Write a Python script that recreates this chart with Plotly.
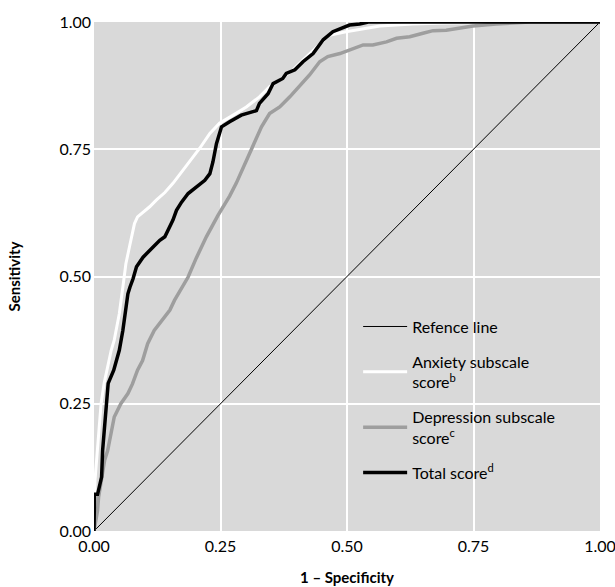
import plotly.graph_objects as go

# Reference line
ref_x = [0.0, 1.0]
ref_y = [0.0, 1.0]

# Anxiety subscale score (white)
anx_x = [0.0, 0.002, 0.006, 0.010, 0.014, 0.020, 0.028, 0.034, 0.040, 0.050, 0.057, 0.063,
         0.070, 0.080, 0.086, 0.097, 0.110, 0.123, 0.140, 0.156, 0.176, 0.192, 0.209, 0.229,
         0.248, 0.275, 0.301, 0.327, 0.347, 0.367, 0.393, 0.413, 0.435, 0.452, 0.465, 0.498,
         0.538, 0.565, 0.630, 0.696, 1.0]
anx_y = [0.0, 0.100, 0.150, 0.200, 0.250, 0.290, 0.330, 0.355, 0.375, 0.427, 0.479, 0.525,
         0.558, 0.604, 0.617, 0.626, 0.637, 0.650, 0.665, 0.683, 0.709, 0.729, 0.752, 0.781,
         0.801, 0.817, 0.833, 0.853, 0.873, 0.886, 0.906, 0.925, 0.945, 0.962, 0.974, 0.981,
         0.987, 0.992, 0.996, 0.998, 1.0]

# Depression subscale score (grey)
dep_x = [0.0, 0.003, 0.007, 0.009, 0.014, 0.021, 0.027, 0.034, 0.040, 0.053, 0.067, 0.076,
         0.086, 0.096, 0.106, 0.119, 0.139, 0.150, 0.159, 0.169, 0.186, 0.202, 0.222, 0.245,
         0.268, 0.281, 0.294, 0.314, 0.331, 0.347, 0.367, 0.387, 0.406, 0.426, 0.446, 0.462,
         0.486, 0.505, 0.532, 0.551, 0.578, 0.598, 0.624, 0.650, 0.670, 0.696, 0.729, 0.749,
         0.795, 0.861, 1.0]
dep_y = [0.0, 0.020, 0.040, 0.066, 0.093, 0.139, 0.158, 0.191, 0.224, 0.250, 0.270, 0.289,
         0.316, 0.335, 0.368, 0.394, 0.420, 0.434, 0.453, 0.470, 0.499, 0.536, 0.578, 0.620,
         0.658, 0.683, 0.712, 0.755, 0.794, 0.820, 0.833, 0.853, 0.873, 0.896, 0.922, 0.932,
         0.938, 0.945, 0.955, 0.955, 0.961, 0.968, 0.971, 0.978, 0.983, 0.984, 0.989, 0.992,
         0.996, 1.0, 1.0]

# Total score (black)
tot_x = [0.0, 0.001, 0.007, 0.012, 0.015, 0.017, 0.020, 0.024, 0.028, 0.039, 0.043, 0.050,
         0.057, 0.063, 0.067, 0.071, 0.077, 0.084, 0.097, 0.110, 0.130, 0.140, 0.150, 0.156,
         0.163, 0.173, 0.186, 0.202, 0.219, 0.229, 0.235, 0.242, 0.252, 0.268, 0.291, 0.321,
         0.327, 0.344, 0.354, 0.373, 0.380, 0.397, 0.413, 0.433, 0.453, 0.472, 0.486, 0.505,
         0.525, 0.542, 1.0]
tot_y = [0.0, 0.072, 0.072, 0.093, 0.106, 0.158, 0.191, 0.243, 0.290, 0.316, 0.329, 0.355,
         0.394, 0.440, 0.466, 0.479, 0.495, 0.519, 0.538, 0.551, 0.571, 0.578, 0.597, 0.611,
         0.630, 0.646, 0.663, 0.676, 0.689, 0.702, 0.725, 0.761, 0.794, 0.804, 0.817, 0.826,
         0.840, 0.859, 0.879, 0.889, 0.899, 0.906, 0.922, 0.938, 0.965, 0.981, 0.987, 0.994,
         0.996, 1.0, 1.0]

tick_vals = [0, 0.25, 0.5, 0.75, 1.0]
tick_text = ["0.00", "0.25", "0.50", "0.75", "1.00"]

FONT = "Lato, 'Open Sans', sans-serif"

fig = go.Figure()
fig.add_trace(go.Scatter(x=ref_x, y=ref_y, mode="lines", name="Refence line", legendgroup="g1",
                         line=dict(color="black", width=1)))
fig.add_trace(go.Scatter(x=anx_x, y=anx_y, mode="lines", name="Anxiety subscale<br>score<sup>b</sup>",
                         legendgroup="g2", line=dict(color="white", width=3)))
fig.add_trace(go.Scatter(x=dep_x, y=dep_y, mode="lines", name="Depression subscale<br>score<sup>c</sup>",
                         legendgroup="g3", line=dict(color="#9e9e9e", width=3.5)))
fig.add_trace(go.Scatter(x=tot_x, y=tot_y, mode="lines", name="Total score<sup>d</sup>",
                         legendgroup="g4", line=dict(color="black", width=3.5)))

fig.update_layout(
    width=615, height=587,
    margin=dict(l=94, r=15, t=22, b=56),
    paper_bgcolor="white",
    plot_bgcolor="#d9d9d9",
    font=dict(family=FONT, size=16, color="black"),
    showlegend=True,
    legend=dict(x=0.522, y=0.435, xanchor="left", yanchor="top",
                bgcolor="rgba(0,0,0,0)", font=dict(size=16, family=FONT),
                tracegroupgap=11, itemwidth=44),
)
fig.update_xaxes(range=[0, 1], tickvals=tick_vals, ticktext=tick_text, automargin=False,
                 showgrid=True, gridcolor="white", gridwidth=1.5, zeroline=False,
                 showline=False, ticks="", tickfont=dict(size=16), ticklabelstandoff=4,
                 ticklabeloverflow="allow",
                 title=dict(text="<b>1 – Specificity</b>", font=dict(size=15), standoff=18))
fig.update_yaxes(range=[0, 1], tickvals=tick_vals, ticktext=tick_text, automargin=False,
                 showgrid=True, gridcolor="white", gridwidth=1.5, zeroline=False,
                 showline=False, ticks="", tickfont=dict(size=16), ticklabelstandoff=2,
                 ticklabeloverflow="allow",
                 title=dict(text="<b>Sensitivity</b>", font=dict(size=15), standoff=35))

fig.write_html("out.html", config={"displayModeBar": False},
               post_script="document.body.style.margin='0';")
